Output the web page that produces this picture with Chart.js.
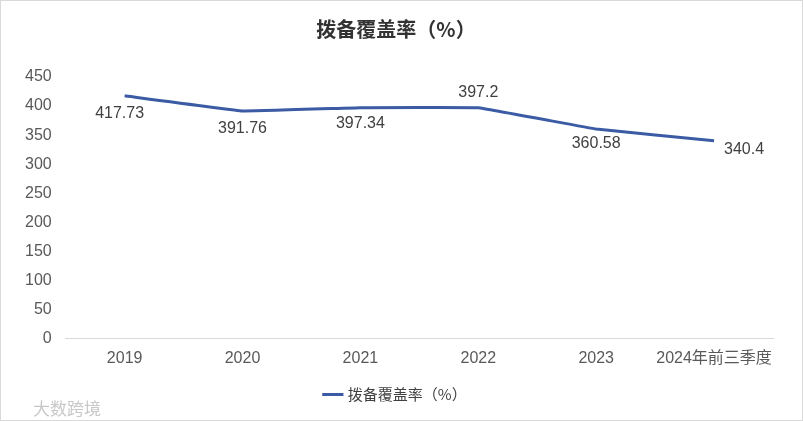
<!DOCTYPE html>
<html>
<head>
<meta charset="utf-8">
<script src="https://cdn.jsdelivr.net/npm/chart.js@4"></script>
<style>
  html, body { margin: 0; padding: 0; background: #fff; }
  #wrap { position: relative; width: 801px; height: 419px; border: 1px solid #d9d9d9; }
  #mark { position: absolute; left: 32px; top: 394px; font: 17px "Noto Sans CJK SC", sans-serif; color: #c8c8c8; }
</style>
</head>
<body>
<div id="wrap">
  <canvas id="c" width="801" height="419"></canvas>
  <div id="mark">大数跨境</div>
</div>
<script>
  // ---- data ----
  const years = ['2019', '2020', '2021', '2022', '2023', '2024年前三季度'];
  const coverage = [417.73, 391.76, 397.34, 397.2, 360.58, 340.4];
  const seriesName = '拨备覆盖率（%）';
  // label offsets (px) relative to each point
  const labelShift = [[-5, 18], [0, 18], [0, 16], [0, -15], [0, 15], [30, 9]];

  const FONT = '"Liberation Sans", Arial, "Noto Sans CJK SC", sans-serif';

  const valueLabels = {
    id: 'valueLabels',
    afterDatasetsDraw(chart) {
      const ctx = chart.ctx;
      const meta = chart.getDatasetMeta(0);
      ctx.save();
      ctx.font = '16px ' + FONT;
      ctx.fillStyle = '#404040';
      ctx.textAlign = 'center';
      ctx.textBaseline = 'middle';
      meta.data.forEach((pt, i) => {
        const s = labelShift[i];
        ctx.fillText(String(coverage[i]), pt.x + s[0], pt.y + s[1]);
      });
      ctx.restore();
    }
  };

  new Chart(document.getElementById('c'), {
    type: 'line',
    data: {
      labels: years,
      datasets: [{
        label: seriesName, data: coverage,
        borderColor: '#3b5ba5', backgroundColor: '#3b5ba5',
        borderWidth: 3, pointRadius: 0, tension: 0.05, fill: false
      }]
    },
    options: {
      responsive: false, animation: false,
      layout: { padding: { left: 18, right: 29, top: 16, bottom: 8 } },
      scales: {
        x: {
          offset: true,
          grid: { display: false },
          border: { display: true, color: '#d9d9d9', width: 1 },
          ticks: { color: '#595959', font: { family: FONT, size: 16 }, padding: 2, maxRotation: 0, autoSkip: false }
        },
        y: {
          min: 0, max: 450,
          grid: { display: false },
          border: { display: false },
          ticks: { stepSize: 50, color: '#595959', font: { family: FONT, size: 16 }, padding: 6 }
        }
      },
      plugins: {
        title: {
          display: true, text: seriesName, color: '#333333',
          font: { family: '"Noto Sans CJK SC", sans-serif', size: 20, weight: 'bold' },
          padding: { top: 0, bottom: 36 }
        },
        legend: {
          position: 'bottom',
          labels: {
            color: '#404040', font: { family: '"Noto Sans CJK SC", sans-serif', size: 15 },
            usePointStyle: true, pointStyle: 'line', boxWidth: 34, padding: 17
          }
        },
        tooltip: { enabled: false }
      }
    },
    plugins: [valueLabels]
  });
</script>
</body>
</html>
